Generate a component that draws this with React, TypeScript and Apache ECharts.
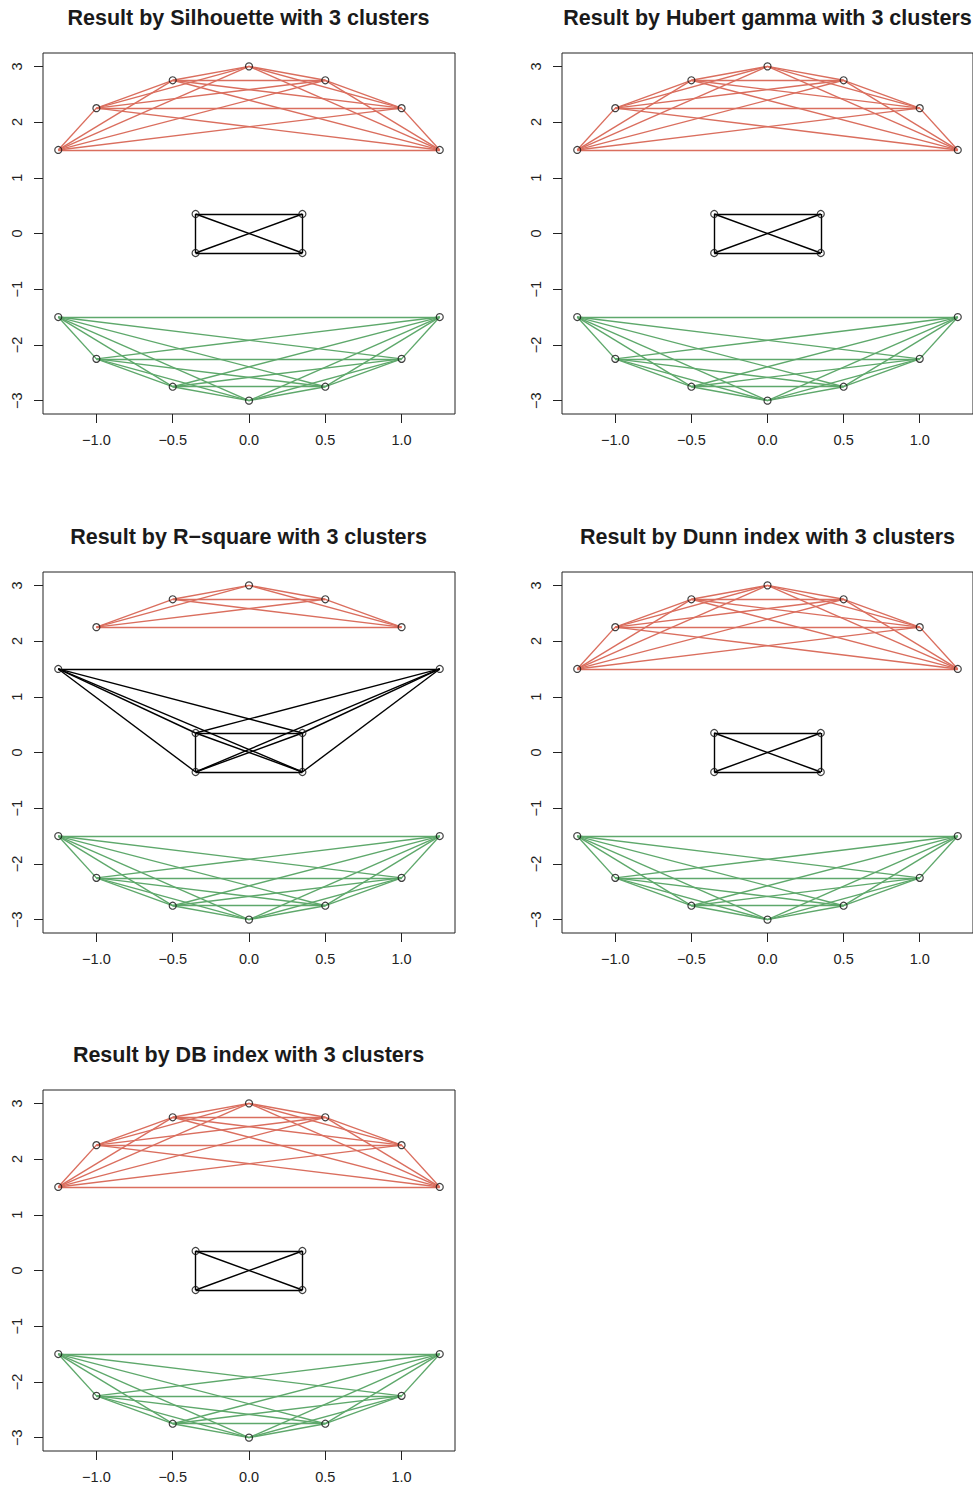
import React, { useEffect, useRef } from "react";
import * as echarts from "echarts";

// point coordinates
const pointX = [-1.25, -1, -0.5, 0, 0.5, 1, 1.25, -0.35, 0.35, -0.35, 0.35, -1.25, -1, -0.5, 0, 0.5, 1, 1.25];
const pointY = [1.5, 2.25, 2.75, 3, 2.75, 2.25, 1.5, 0.35, 0.35, -0.35, -0.35, -1.5, -2.25, -2.75, -3, -2.75, -2.25, -1.5];

// method names (panel titles)
const methods = ["Silhouette", "Hubert gamma", "R\u2212square", "Dunn index", "DB index"];

// cluster assignment per method
const clustSilhouette = [2, 2, 2, 2, 2, 2, 2, 1, 1, 1, 1, 3, 3, 3, 3, 3, 3, 3];
const clustHubert = [2, 2, 2, 2, 2, 2, 2, 1, 1, 1, 1, 3, 3, 3, 3, 3, 3, 3];
const clustRsquare = [1, 2, 2, 2, 2, 2, 1, 1, 1, 1, 1, 3, 3, 3, 3, 3, 3, 3];
const clustDunn = [2, 2, 2, 2, 2, 2, 2, 1, 1, 1, 1, 3, 3, 3, 3, 3, 3, 3];
const clustDB = [2, 2, 2, 2, 2, 2, 2, 1, 1, 1, 1, 3, 3, 3, 3, 3, 3, 3];
const clusterings = [clustSilhouette, clustHubert, clustRsquare, clustDunn, clustDB];

// tick labels
const xTicks = [-1, -0.5, 0, 0.5, 1];
const yTicks = [-3, -2, -1, 0, 1, 2, 3];

const clusterColors: Record<number, string> = { 1: "#000000", 2: "#DA6E5E", 3: "#5EA86B" };

const panels = [
  { left: 43, top: 53 },
  { left: 562, top: 53 },
  { left: 43, top: 572 },
  { left: 562, top: 572 },
  { left: 43, top: 1090 },
];
const PW = 412;
const PH = 361;

const fmt = (v: number, d: number) => v.toFixed(d).replace("-", "\u2212");

export default function App() {
  const ref = useRef<HTMLDivElement>(null);
  useEffect(() => {
    if (!ref.current) return;
    const chart = echarts.init(ref.current, null, { renderer: "svg" });
    const grid: any[] = [];
    const xAxis: any[] = [];
    const yAxis: any[] = [];
    const title: any[] = [];
    const series: any[] = [];

    panels.forEach((p, i) => {
      grid.push({
        left: p.left, top: p.top, width: PW, height: PH,
        show: true, borderColor: "#222", borderWidth: 1, backgroundColor: "transparent",
      });
      xAxis.push({
        gridIndex: i, type: "value", min: -1.35, max: 1.35, position: "bottom",
        axisLine: { show: false, onZero: false },
        splitLine: { show: false },
        axisTick: { show: true, length: 9, customValues: xTicks, lineStyle: { color: "#222" } },
        axisLabel: {
          customValues: xTicks, margin: 18, fontSize: 14.5, color: "#222",
          fontFamily: "Liberation Sans, Arial, sans-serif",
          formatter: (v: number) => fmt(v, 1),
        },
      });
      yAxis.push({
        gridIndex: i, type: "value", min: -3.24, max: 3.24, position: "left",
        axisLine: { show: false, onZero: false },
        splitLine: { show: false },
        axisTick: { show: true, length: 9, customValues: yTicks, lineStyle: { color: "#222" } },
        axisLabel: {
          customValues: yTicks, margin: 19, fontSize: 14.5, color: "#222", rotate: 90,
          fontFamily: "Liberation Sans, Arial, sans-serif",
          formatter: (v: number) => fmt(v, 0),
        },
      });
      title.push({
        text: `Result by ${methods[i]} with 3 clusters`,
        left: p.left + PW / 2 - 0.5, top: p.top - 46, textAlign: "center", padding: 0,
        textStyle: { fontSize: 21.5, fontWeight: "bold", color: "#1a1a1a", fontFamily: "Liberation Sans, Arial, sans-serif" },
      });

      const cl = clusterings[i];
      [1, 2, 3].forEach((c) => {
        const idx = cl.map((v, k) => (v === c ? k : -1)).filter((k) => k >= 0);
        const edges: any[] = [];
        for (let a = 0; a < idx.length; a++) {
          for (let b = a + 1; b < idx.length; b++) {
            edges.push({ coords: [[pointX[idx[a]], pointY[idx[a]]], [pointX[idx[b]], pointY[idx[b]]]] });
          }
        }
        series.push({
          type: "lines", coordinateSystem: "cartesian2d", xAxisIndex: i, yAxisIndex: i,
          data: edges, silent: true,
          lineStyle: { color: clusterColors[c], width: 1.4, opacity: 1 },
        });
      });
      series.push({
        type: "scatter", xAxisIndex: i, yAxisIndex: i,
        data: pointX.map((x, k) => [x, pointY[k]]),
        symbol: "circle", symbolSize: 7,
        itemStyle: { color: "rgba(0,0,0,0)", borderColor: "#111", borderWidth: 1.2 },
        z: 5, silent: true,
      });
    });

    chart.setOption({ animation: false, backgroundColor: "#fff", grid, xAxis, yAxis, title, series });
    return () => chart.dispose();
  }, []);
  return <div ref={ref} style={{ position: "absolute", left: 0, top: 0, width: 973, height: 1490 }} />;
}
